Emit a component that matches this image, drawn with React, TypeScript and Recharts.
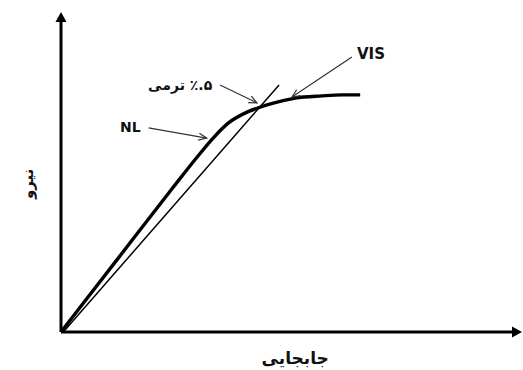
import React from "react";
import { LineChart, Line, XAxis, YAxis, ReferenceLine, ReferenceDot } from "recharts";

// Load–displacement curve (force vs displacement), normalized units
const curveX = [0, 12, 24, 29.5, 33, 36.2, 39.9, 42.7, 47.1, 50.8, 56.6, 61, 64.9];
const curveY = [0, 22.3, 44.6, 54.6, 60.6, 65.2, 68.4, 70, 71.9, 73.1, 73.8, 74.1, 74.1];

// 0.5% offset line
const offsetX = [0.5, 47.3];
const offsetY = [0, 77.2];

const labelVIS = "VIS";
const labelNL = "NL";
const labelOffset = "ترمی \u200E٪.۵";
const xTitle = "جابجایی";
const yTitle = "نیرو";

const curveData = curveX.map((x, i) => ({ x, y: curveY[i] }));
const offsetData = offsetX.map((x, i) => ({ x, y: offsetY[i] }));

type ArrowOpts = { head: number; half: number; filled: boolean };

const makeArrow = (o: ArrowOpts) => (p: any) => {
  const { x1, y1, x2, y2, stroke, strokeWidth } = p;
  const dx = x2 - x1;
  const dy = y2 - y1;
  const len = Math.sqrt(dx * dx + dy * dy) || 1;
  const ux = dx / len;
  const uy = dy / len;
  const bx = x2 - ux * o.head;
  const by = y2 - uy * o.head;
  const lx = bx - uy * o.half;
  const ly = by + ux * o.half;
  const rx = bx + uy * o.half;
  const ry = by - ux * o.half;
  const endX = o.filled ? x2 - ux * o.head * 0.6 : x2;
  const endY = o.filled ? y2 - uy * o.head * 0.6 : y2;
  return (
    <g>
      <line x1={x1} y1={y1} x2={endX} y2={endY} stroke={stroke} strokeWidth={strokeWidth} />
      {o.filled ? (
        <polygon points={`${x2},${y2} ${lx},${ly} ${rx},${ry}`} fill={stroke} />
      ) : (
        <polyline
          points={`${lx},${ly} ${x2},${y2} ${rx},${ry}`}
          fill="none"
          stroke={stroke}
          strokeWidth={strokeWidth}
        />
      )}
    </g>
  );
};

const axisArrow = makeArrow({ head: 10, half: 5.5, filled: true });
const noteArrow = makeArrow({ head: 8, half: 3.5, filled: false });

const textShape =
  (text: string, opts: { anchor?: string; size: number; rotate?: boolean; baseline?: string }) =>
  (p: any) => (
    <text
      x={p.cx}
      y={p.cy}
      textAnchor={opts.anchor || "start"}
      dominantBaseline={opts.baseline || "alphabetic"}
      fontFamily="'DejaVu Sans', sans-serif"
      fontWeight="bold"
      fontSize={opts.size}
      fill="#111"
      transform={opts.rotate ? `rotate(-90 ${p.cx} ${p.cy})` : undefined}
    >
      {text}
    </text>
  );

export default function App() {
  return (
    <div style={{ position: "absolute", left: 0, top: 0, width: 523, height: 370, background: "#fff" }}>
      <LineChart
        width={523}
        height={370}
        margin={{ top: 12, right: 1, bottom: 38, left: 61 }}
      >
        <XAxis type="number" dataKey="x" domain={[0, 100]} hide allowDataOverflow />
        <YAxis type="number" dataKey="y" domain={[0, 100]} hide allowDataOverflow />

        <ReferenceLine
          segment={[{ x: 0, y: 0 }, { x: 100, y: 0 }]}
          stroke="#000"
          strokeWidth={3}
          ifOverflow="visible"
          shape={axisArrow}
        />
        <ReferenceLine
          segment={[{ x: 0, y: 0 }, { x: 0, y: 100 }]}
          stroke="#000"
          strokeWidth={3}
          ifOverflow="visible"
          shape={axisArrow}
        />

        <Line
          data={offsetData}
          dataKey="y"
          type="linear"
          stroke="#000"
          strokeWidth={1.5}
          dot={false}
          activeDot={false}
          isAnimationActive={false}
        />
        <Line
          data={curveData}
          dataKey="y"
          type="monotone"
          stroke="#000"
          strokeWidth={3.4}
          dot={false}
          activeDot={false}
          isAnimationActive={false}
        />

        <ReferenceLine
          segment={[{ x: 19.0, y: 63.8 }, { x: 31.6, y: 60.6 }]}
          stroke="#333"
          strokeWidth={1.2}
          ifOverflow="visible"
          shape={noteArrow}
        />
        <ReferenceLine
          segment={[{ x: 34.5, y: 77.2 }, { x: 42.5, y: 71.6 }]}
          stroke="#333"
          strokeWidth={1.2}
          ifOverflow="visible"
          shape={noteArrow}
        />
        <ReferenceLine
          segment={[{ x: 63.1, y: 85.9 }, { x: 50.1, y: 73.4 }]}
          stroke="#333"
          strokeWidth={1.2}
          ifOverflow="visible"
          shape={noteArrow}
        />

        <ReferenceDot x={64.2} y={85.3} r={0} ifOverflow="visible" shape={textShape(labelVIS, { size: 15 })} />
        <ReferenceDot x={12.8} y={62.5} r={0} ifOverflow="visible" shape={textShape(labelNL, { size: 14 })} />
        <ReferenceDot
          x={32.8}
          y={75.6}
          r={0}
          ifOverflow="visible"
          shape={textShape(labelOffset, { size: 14, anchor: "end" })}
        />
        <ReferenceDot
          x={50.8}
          y={-10}
          r={0}
          ifOverflow="visible"
          shape={textShape(xTitle, { size: 17, anchor: "middle" })}
        />
        <ReferenceDot
          x={-7.2}
          y={46.3}
          r={0}
          ifOverflow="visible"
          shape={textShape(yTitle, { size: 15, anchor: "middle", rotate: true, baseline: "central" })}
        />
      </LineChart>
    </div>
  );
}
